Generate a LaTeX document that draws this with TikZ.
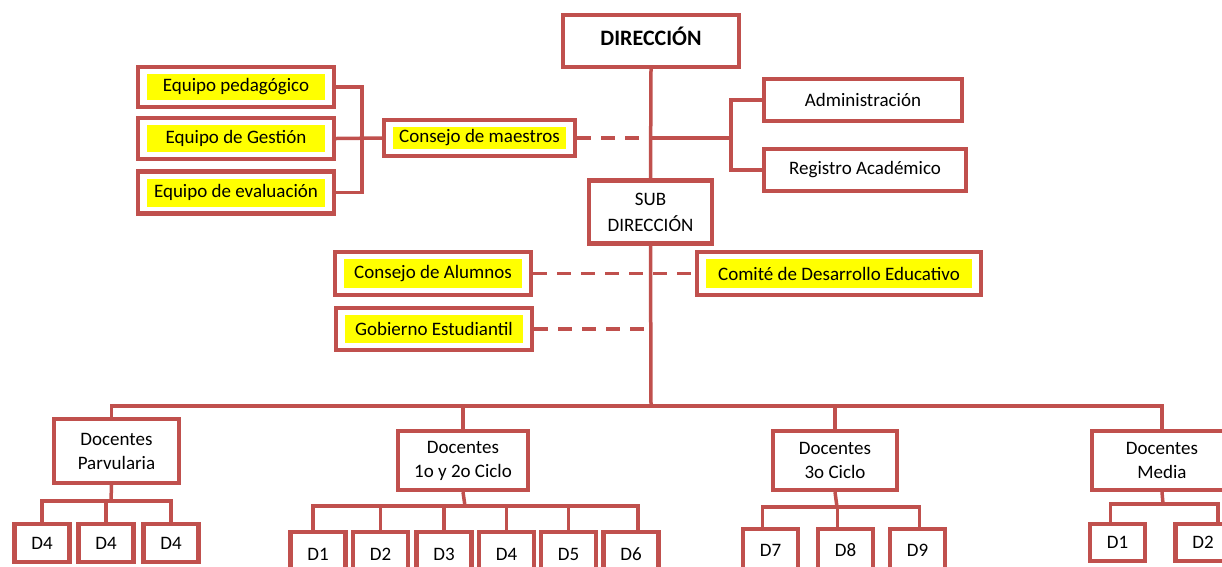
\documentclass[tikz,border=0pt]{standalone}
\usepackage{fontspec}
\setmainfont{Carlito}
\definecolor{boxred}{HTML}{C0504D}
\definecolor{hl}{HTML}{FFFF00}
\tikzset{
  x=1pt,y=-1pt,
  box/.style={draw=boxred, line width=4.2pt, fill=white, inner sep=0pt, align=center,
    font=\fontsize{19}{24}\selectfont},
  hlbox/.style={box, path picture={\fill[hl]
      ([shift={(9pt,-7pt)}]path picture bounding box.north west) rectangle
      ([shift={(-9pt,7pt)}]path picture bounding box.south east);}},
  conn/.style={draw=boxred, line width=3.5pt},
  dashconn/.style={draw=boxred, line width=3.8pt, dash pattern=on 14pt off 10pt},
}
\begin{document}
\begin{tikzpicture}
\useasboundingbox (0,0) rectangle (1222,566);
\clip (0,0) rectangle (1222,566);

% junction coordinates
\coordinate (jA) at (651,138);
\coordinate (bA) at (731,138);
\coordinate (bL) at (362,138);
\coordinate (bus) at (651,406);

\node[box, minimum width=176, minimum height=52, text height=8pt, text depth=0pt,
  font=\fontsize{22}{26}\selectfont\bfseries] (dir) at (651,41) {DIRECCIÓN};
\node[box, minimum width=123, minimum height=63, font=\fontsize{19}{26}\selectfont] (sub) at (650.5,212) {SUB\\DIRECCIÓN};

\draw[conn] (dir.south) -- (sub.north);
\draw[conn] (jA) -- (bA);

\node[box, minimum width=198, minimum height=42] (adm) at (863,100) {Administración};
\node[box, minimum width=202, minimum height=42] (reg) at (865,170) {Registro Académico};
\draw[conn] (adm.west) -| (bA) |- (reg.west);

\node[hlbox, minimum width=191, minimum height=36] (cm) at (479.5,138) {Consejo de maestros};
\node[hlbox, minimum width=196, minimum height=40] (ep) at (236,87) {Equipo pedagógico};
\node[hlbox, minimum width=196, minimum height=41] (eg) at (236,138.5) {Equipo de Gestión};
\node[hlbox, minimum width=196, minimum height=42] (ee) at (236,192.5) {Equipo de evaluación};
\draw[conn] (ep.east) -| (bL) |- (ee.east);
\draw[conn] (eg.east) -- (cm.west);
\draw[dashconn] (cm.east) -- (jA);

\node[hlbox, minimum width=196, minimum height=43] (ca) at (433,273.5) {Consejo de Alumnos};
\node[hlbox, minimum width=284, minimum height=43] (cde) at (839,273.5) {Comité de Desarrollo Educativo};
\node[hlbox, minimum width=196, minimum height=42] (ge) at (434,329) {Gobierno Estudiantil};

\draw[conn] (sub.south) -- (bus);
\draw[dashconn] (ca.east) -- (cde.west);
\draw[dashconn] (ge.east) -- (ge.east -| bus);

% second level
\node[box, minimum width=125, minimum height=64] (dp) at (116.5,451) {Docentes\\Parvularia};
\node[box, minimum width=130, minimum height=59] (d12) at (463,460.5) {Docentes\\1o y 2o Ciclo};
\node[box, minimum width=124, minimum height=59] (d3) at (835,460.5) {Docentes\\3o Ciclo};
\node[box, minimum width=140, minimum height=59] (dm) at (1162,460.5) {Docentes\\Media};

\coordinate (dpt) at ([xshift=-5pt]dp.north);
\draw[conn] (dpt) |- (bus) -| (dm.north);
\draw[conn] (d12.north) -- (d12.north |- bus);
\draw[conn] (d3.north) -- (d3.north |- bus);

% Parvularia children
\begin{scope}[every node/.style={box, minimum width=55, minimum height=38}]
\node (p1) at (42,543) {D4};
\node (p2) at (106,543) {D4};
\node (p3) at (171,543) {D4};
\end{scope}
\coordinate (pb) at (111,501);
\draw[conn] ([xshift=-5pt]dp.south) -- (pb);
\draw[conn] (p1.north) |- (pb) -| (p3.north);
\draw[conn] (p2.north) -- (p2.north |- pb);

% 1o y 2o children
\begin{scope}[every node/.style={box, minimum width=55, minimum height=44}]
\node (a1) at (318,554) {D1};
\node (a2) at (380.5,554) {D2};
\node (a3) at (444,554) {D3};
\node (a4) at (506.5,554) {D4};
\node (a5) at (568.5,554) {D5};
\node (a6) at (631,554) {D6};
\end{scope}
\coordinate (ab) at (465,506);
\draw[conn] (d12.south) -- (ab);
\draw[conn] ([xshift=-5pt]a1.north) |- (ab) -| ([xshift=7pt]a6.north);
\foreach \n in {a2,a3,a4,a5} \draw[conn] (\n.north) -- (\n.north |- ab);

% 3o Ciclo children
\begin{scope}[every node/.style={box, minimum width=55, minimum height=42}]
\node (b1) at (770.5,550) {D7};
\node (b2) at (845.5,550) {D8};
\node (b3) at (917.5,550) {D9};
\end{scope}
\coordinate (bb) at (837,507);
\draw[conn] (d3.south) -- (bb);
\draw[conn] ([xshift=-8pt]b1.north) |- (bb) -| ([xshift=2pt]b3.north);
\draw[conn] ([xshift=-8pt]b2.north) -- ([xshift=-8pt]b2.north |- bb);

% Media children
\begin{scope}[every node/.style={box, minimum width=55, minimum height=37}]
\node (m1) at (1117.5,542.5) {D1};
\node (m2) at (1203,542.5) {D2};
\end{scope}
\coordinate (mb) at (1163,504);
\draw[conn] (dm.south) -- (mb);
\draw[conn] ([xshift=-7pt]m1.north) |- (mb) -| ([xshift=15pt]m2.north);
\end{tikzpicture}
\end{document}
